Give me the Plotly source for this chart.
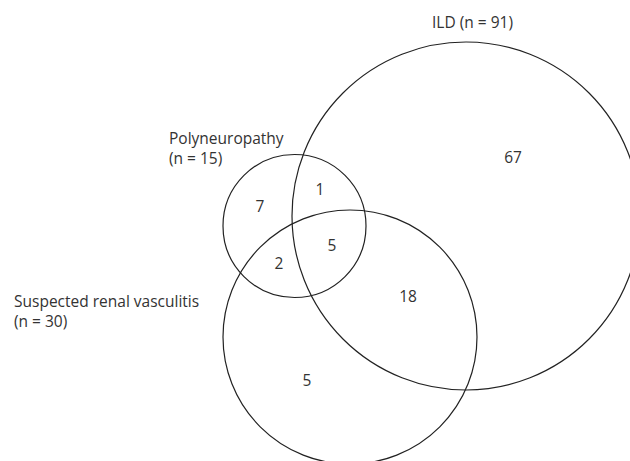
import plotly.graph_objects as go

# Data
set_names = ["ILD", "Polyneuropathy", "Suspected renal vasculitis"]
set_sizes = [91, 15, 30]
region_labels = ["ILD only", "Poly only", "Poly∩ILD", "All three", "Poly∩Renal", "ILD∩Renal", "Renal only"]
region_counts = [67, 7, 1, 5, 2, 18, 5]

# Layout geometry (pixel-like coordinates)
circles = {  # cx, cy, r
    "ILD": (466, 216, 174),
    "Polyneuropathy": (294.5, 226, 71.5),
    "Suspected renal vasculitis": (350, 337, 127),
}
region_pos = [(513, 159), (260, 208), (320, 191), (332, 247), (279, 265), (408, 298), (307, 382)]

FONT = "Open Sans, Noto Sans, sans-serif"
FS = 15.5
fig = go.Figure()
fig.add_trace(go.Scatter(
    x=[p[0] for p in region_pos], y=[p[1] for p in region_pos],
    mode="text", text=[str(v) for v in region_counts],
    textfont=dict(family=FONT, size=FS, color="#333"),
    hoverinfo="text", hovertext=region_labels, showlegend=False))

for name in set_names:
    cx, cy, r = circles[name]
    fig.add_shape(type="circle", xref="x", yref="y",
                  x0=cx - r, x1=cx + r, y0=cy - r, y1=cy + r,
                  line=dict(color="#222", width=1.2), fillcolor="rgba(0,0,0,0)")

label_specs = [
    (472, 22, "center", f"{set_names[0]} (n = {set_sizes[0]})"),
    (167, 148, "left", f"{set_names[1]}<br>(n = {set_sizes[1]})"),
    (12, 311, "left", f"{set_names[2]}<br>(n = {set_sizes[2]})"),
]
for x, y, al, t in label_specs:
    fig.add_annotation(x=x, y=y, xref="x", yref="y", text=t, showarrow=False,
                       xanchor=al, yanchor="middle", align="left",
                       font=dict(family=FONT, size=FS, color="#333"))

fig.update_layout(
    width=630, height=461, margin=dict(l=0, r=0, t=0, b=0),
    paper_bgcolor="white", plot_bgcolor="white",
    xaxis=dict(range=[0, 630], visible=False, fixedrange=True),
    yaxis=dict(range=[461, 0], visible=False, fixedrange=True),
)
fig.write_html("out.html", config={"displayModeBar": False},
               post_script="document.body.style.margin='0';document.body.style.overflow='hidden';")
